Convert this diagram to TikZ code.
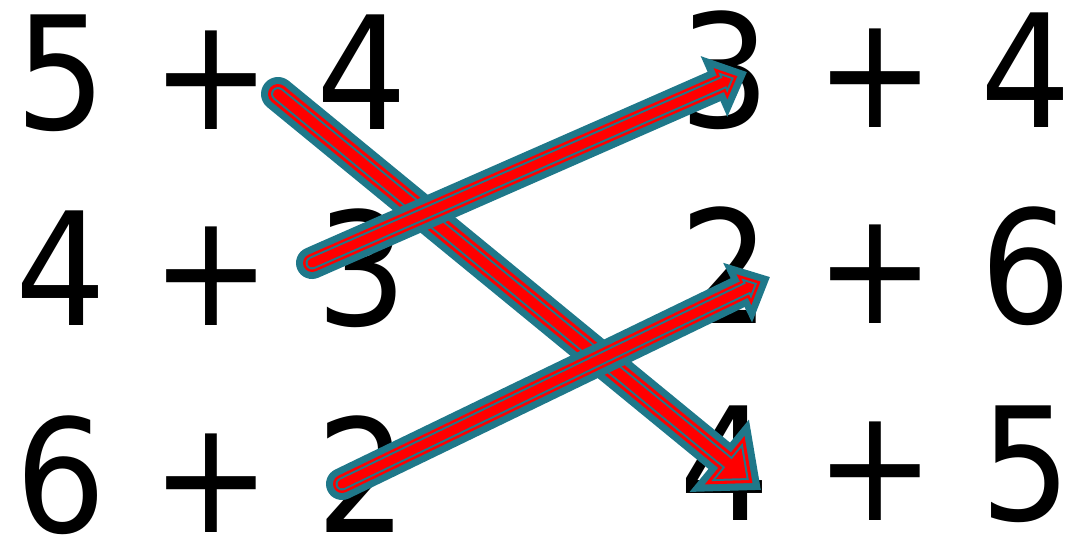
\documentclass[tikz,border=0pt]{standalone}
\usepackage{fontspec}
\setmainfont{DejaVu Sans}
\usetikzlibrary{arrows.meta,calc}
\definecolor{swapteal}{RGB}{31,120,138}
\newcommand{\sumtxt}[1]{\scalebox{1}[1.1]{#1}}
\tikzset{
  sumnode/.style={anchor=base west,inner sep=0pt,font=\fontsize{143}{150}\selectfont},
  swapline/.style={line cap=round,line join=round}
}

\begin{document}
\begin{tikzpicture}[x=1pt,y=1pt]
  \useasboundingbox (0,0) rectangle (1070,542);
  % left column
  \node[sumnode] (l1) at (15,412) {\sumtxt{5 + 4}};
  \node[sumnode] (l2) at (15,217) {\sumtxt{4 + 3}};
  \node[sumnode] (l3) at (15,10) {\sumtxt{6 + 2}};
  % right column
  \node[sumnode] (r1) at (679,414) {\sumtxt{3 + 4}};
  \node[sumnode] (r2) at (679,219) {\sumtxt{2 + 6}};
  \node[sumnode] (r3) at (679,22) {\sumtxt{4 + 5}};
  % arrow ends
  \coordinate (a1s) at ($(l1.base west)+(263,36)$);
  \coordinate (a1e) at ($(r3.base west)+(82,30)$);
  \coordinate (a2s) at ($(l2.base west)+(297,62)$);
  \coordinate (a2e) at ($(r1.base west)+(68,56)$);
  \coordinate (a3s) at ($(l3.base west)+(327,48)$);
  \coordinate (a3e) at ($(r2.base west)+(91,46)$);
  % big arrow, four layers
  \foreach \w/\c/\l/\b/\o in {34/swapteal/54/90/0, 20/red/36.1/60.2/10.9, 14/swapteal/28.4/47.3/15.6, 10/red/23.3/38.8/18.7}
    \draw[swapline,\c,line width=\w pt,shorten >=\o pt,-{Triangle[length=\l pt,width=\b pt]}] (a1s) -- (a1e);
  % small arrows
  \foreach \s/\e in {a2s/a2e, a3s/a3e}
    \foreach \w/\c/\l/\b/\o in {32/swapteal/36/64/0, 18/red/18.5/32.9/10.5, 13/swapteal/12.2/21.7/14.3, 9/red/7.2/12.8/17.3}
      \draw[swapline,\c,line width=\w pt,shorten >=\o pt,-{Triangle[length=\l pt,width=\b pt]}] (\s) -- (\e);
\end{tikzpicture}
\end{document}
